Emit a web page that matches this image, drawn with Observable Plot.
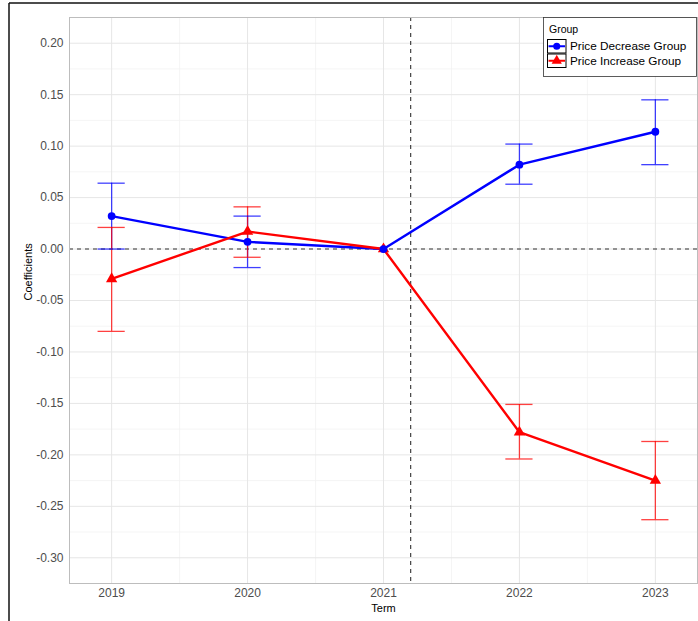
<!DOCTYPE html>
<html>
<head>
<meta charset="utf-8">
<script src="https://cdn.jsdelivr.net/npm/d3@7"></script>
<script src="https://cdn.jsdelivr.net/npm/@observablehq/plot@0.6"></script>
<style>
  html, body { margin: 0; padding: 0; background: #fff; }
  #chart { width: 698px; height: 621px; }
</style>
</head>
<body>
<div id="chart"></div>
<script>
// Event-study coefficients by term, with 95% confidence intervals
const years = [2019, 2020, 2021, 2022, 2023];
const groups = ["Price Decrease Group", "Price Increase Group"];
const groupColors = ["#0000ff", "#ff0000"];

const decEst  = [0.032, 0.007, 0, 0.082, 0.114];
const decLow  = [0.000, -0.018, 0, 0.063, 0.082];
const decHigh = [0.064, 0.032, 0, 0.102, 0.145];

const incEst  = [-0.029, 0.017, 0, -0.178, -0.225];
const incLow  = [-0.080, -0.008, 0, -0.204, -0.263];
const incHigh = [0.021, 0.041, 0, -0.151, -0.187];

// Axis ticks and reference lines
const yTicks = [-0.30, -0.25, -0.20, -0.15, -0.10, -0.05, 0.00, 0.05, 0.10, 0.15, 0.20];
const yMinor = [-0.275, -0.225, -0.175, -0.125, -0.075, -0.025, 0.025, 0.075, 0.125, 0.175];
const xMinor = [2019.5, 2020.5, 2021.5, 2022.5];
const zeroLine = [0];
const cutoff = [2021.2];

const rows = years.flatMap((term, i) => [
  {term, group: groups[0], est: decEst[i], low: decLow[i], high: decHigh[i]},
  {term, group: groups[1], est: incEst[i], low: incLow[i], high: incHigh[i]}
]);
const bars = rows.filter(d => d.low !== d.high);
const capHalf = 0.1;

const fontFamily = "'Liberation Sans', Arial, Helvetica, sans-serif";
const dashed = {stroke: "#333333", strokeWidth: 1.1, strokeDasharray: "4,4"};
const errStyle = {stroke: "group", strokeWidth: 1.3, strokeOpacity: 0.75};

const svg = Plot.plot({
  width: 698,
  height: 621,
  marginLeft: 69,
  marginRight: 1,
  marginTop: 17,
  marginBottom: 38,
  style: {fontFamily, fontSize: "12px", color: "#4d4d4d", background: "transparent"},
  x: {domain: [2018.69, 2023.31], ticks: years, tickFormat: d => String(d), tickSize: 0, tickPadding: 5, label: null},
  y: {domain: [-0.325, 0.225], ticks: yTicks, tickFormat: d => d.toFixed(2), tickSize: 0, tickPadding: 6, label: null},
  color: {domain: groups, range: groupColors},
  marks: [
    Plot.ruleX(xMinor, {stroke: "#f3f3f3", strokeWidth: 0.8}),
    Plot.ruleY(yMinor, {stroke: "#f3f3f3", strokeWidth: 0.8}),
    Plot.ruleX(years, {stroke: "#e6e6e6", strokeWidth: 1}),
    Plot.ruleY(yTicks, {stroke: "#e6e6e6", strokeWidth: 1}),
    Plot.ruleY(zeroLine, dashed),
    Plot.ruleX(cutoff, dashed),
    Plot.line(rows, {x: "term", y: "est", z: "group", stroke: "group", strokeWidth: 2.4}),
    Plot.ruleX(bars, {x: "term", y1: "low", y2: "high", ...errStyle}),
    Plot.ruleY(bars, {y: "high", x1: d => d.term - capHalf, x2: d => d.term + capHalf, ...errStyle}),
    Plot.ruleY(bars, {y: "low", x1: d => d.term - capHalf, x2: d => d.term + capHalf, ...errStyle}),
    Plot.dot(rows.filter(d => d.group === groups[1]), {x: "term", y: "est", symbol: "triangle", r: 4.2, fill: groupColors[1]}),
    Plot.dot(rows.filter(d => d.group === groups[0]), {x: "term", y: "est", r: 3.9, fill: groupColors[0]}),
    Plot.frame({stroke: "#bdbdbd", strokeWidth: 1}),
    Plot.text(["Term"], {text: d => d, frameAnchor: "bottom", dy: 25, lineAnchor: "middle", fontSize: 11, fill: "black"}),
    Plot.text(["Coefficients"], {text: d => d, frameAnchor: "left", dx: -41, rotate: -90, fontSize: 11, fill: "black"})
  ]
});

document.getElementById("chart").appendChild(svg);

// Legend drawn inside the panel, top-right
const root = d3.select(svg);
const legend = root.append("g")
  .attr("font-family", fontFamily)
  .attr("text-anchor", "start");
legend.append("rect")
  .attr("x", 543.5).attr("y", 17.5).attr("width", 153).attr("height", 59)
  .attr("fill", "white").attr("stroke", "#333").attr("stroke-width", 0.8);
legend.append("text")
  .attr("x", 549).attr("y", 32.5).attr("font-size", 10.5).attr("fill", "black")
  .text("Group");
groups.forEach((g, i) => {
  const top = 39.5 + i * 14.5;
  const cy = top + 6.75;
  const item = legend.append("g");
  item.append("rect")
    .attr("x", 547.5).attr("y", top).attr("width", 18.5).attr("height", 13.5)
    .attr("fill", "white").attr("stroke", "black").attr("stroke-width", 1);
  item.append("line")
    .attr("x1", 548.5).attr("x2", 565).attr("y1", cy).attr("y2", cy)
    .attr("stroke", groupColors[i]).attr("stroke-width", 2);
  item.append("path")
    .attr("transform", `translate(556.75,${cy})`)
    .attr("d", d3.symbol(i === 0 ? d3.symbolCircle : d3.symbolTriangle, i === 0 ? 40 : 45)())
    .attr("fill", groupColors[i]);
  item.append("text")
    .attr("x", 570).attr("y", cy).attr("dy", "0.35em")
    .attr("font-size", 11.75).attr("fill", "black")
    .text(g);
});

// Outer page frame
root.append("line").attr("x1", 9).attr("x2", 698).attr("y1", 3).attr("y2", 3)
  .attr("stroke", "#111").attr("stroke-width", 1.5);
root.append("line").attr("x1", 9).attr("x2", 9).attr("y1", 3).attr("y2", 621)
  .attr("stroke", "#111").attr("stroke-width", 1.5);
</script>
</body>
</html>
